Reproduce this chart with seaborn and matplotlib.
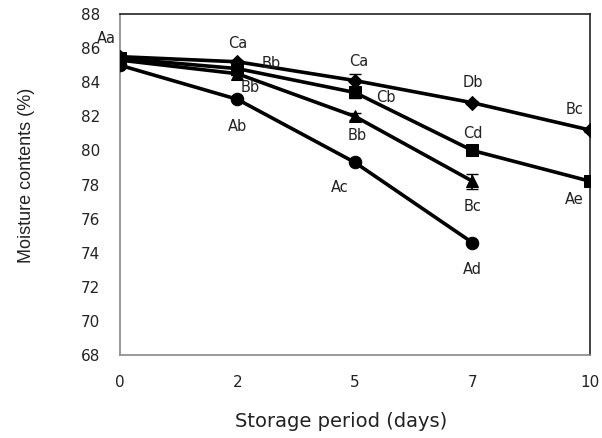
import pandas as pd
import matplotlib.pyplot as plt
import seaborn as sns

# storage days (shown as equally spaced categories)
days = ['0', '2', '5', '7', '10']

# moisture contents (%) per treatment
t1 = [85.5, 85.2, 84.1, 82.8, 81.2]   # diamond
t2 = [85.4, 84.8, 83.4, 80.0, 78.2]   # square
t3 = [85.3, 84.5, 82.0, 78.2]         # triangle
t4 = [85.0, 83.0, 79.3, 74.6]         # circle

# small error bars
t1_err = [0.1, 0.1, 0.4, 0.1, 0.1]
t2_err = [0.1, 0.1, 0.3, 0.1, 0.1]
t3_err = [0.1, 0.1, 0.2, 0.45]
t4_err = [0.1, 0.1, 0.1, 0.1]

# letter labels: text, day index, y position
letters = ['Aa', 'Ca', 'Bb', 'Bb', 'Ab', 'Ca', 'Cb', 'Bb', 'Ac',
           'Db', 'Cd', 'Bc', 'Ad', 'Bc', 'Ae']
letter_x = [-0.11, 1.0, 1.29, 1.11, 1.0, 2.03, 2.26, 2.02, 1.87,
            3.0, 3.0, 3.0, 3.0, 3.87, 3.87]
letter_y = [86.55, 86.3, 85.1, 83.7, 81.4, 85.2, 83.1, 80.9, 77.85,
            84.0, 81.0, 76.7, 73.0, 82.4, 77.1]

series = [
    ('T1', t1, t1_err, 'D', 7),
    ('T2', t2, t2_err, 's', 8.5),
    ('T3', t3, t3_err, '^', 8),
    ('T4', t4, t4_err, 'o', 9),
]

sns.set_style('white')
plt.rcParams['font.family'] = ['DejaVu Sans']

fig = plt.figure(figsize=(6.02, 4.38), dpi=100)
ax = fig.add_axes([0.199, 0.189, 0.781, 0.779])

for name, vals, errs, mk, ms in series:
    df = pd.DataFrame({'pos': range(len(vals)), 'moisture': vals})
    sns.lineplot(x='pos', y='moisture', data=df, ax=ax, color='black',
                 marker=mk, markersize=ms, markeredgecolor='black',
                 linewidth=2.6, zorder=3)
    ax.errorbar(df['pos'], df['moisture'], yerr=errs, fmt='none',
                ecolor='black', elinewidth=1.2, capsize=4, zorder=2)

for txt, x, y in zip(letters, letter_x, letter_y):
    ax.text(x, y, txt, ha='center', va='center', fontsize=10.5, color='#222222')

ax.set_xlim(0, 4)
ax.set_ylim(68, 88)
ax.set_xticks(range(len(days)))
ax.set_xticklabels(days)
ax.set_yticks(range(68, 89, 2))
ax.tick_params(direction='in', length=4, width=0.8, color='#888888',
               labelsize=11, labelcolor='#222222', pad=14)
ax.set_xlabel('Storage period (days)', fontsize=14, color='#222222')
ax.xaxis.set_label_coords(0.47, -0.165)
ax.set_ylabel('Moisture contents (%)', fontsize=13, color='#222222',
              family=['Liberation Sans'])
ax.yaxis.set_label_coords(-0.181, 0.528)

for side in ['left', 'bottom']:
    ax.spines[side].set_color('#888888')
    ax.spines[side].set_linewidth(1.2)
for side in ['top', 'right']:
    ax.spines[side].set_color('#222222')
    ax.spines[side].set_linewidth(1.2)

fig.savefig('out.png', dpi=100)
